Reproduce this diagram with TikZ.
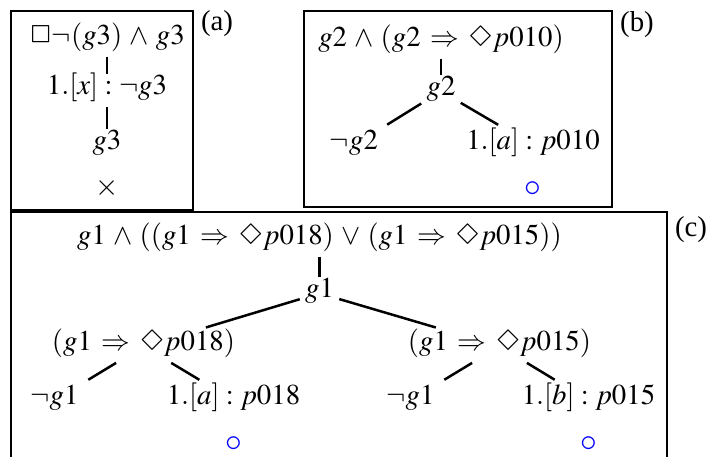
\documentclass[tikz,border=0pt]{standalone}
\usepackage{mathptmx}
\usepackage{latexsym}
\usepackage{fontspec}
\setmainfont{Liberation Serif}
\usetikzlibrary{positioning}
\definecolor{cOpen}{HTML}{0000FF}
\definecolor{cInk}{HTML}{000000}
\newcommand{\imp}{\mathrel{\mkern2mu\Rightarrow\mkern2mu}}
\newcommand{\andop}{\mathbin{\mkern2mu\wedge\mkern2mu}}
\newcommand{\orop}{\mathbin{\mkern2mu\vee\mkern2mu}}
\tikzset{
  fml/.style       = {inner xsep=1mm, inner ysep=1.5mm, text height=0.75em, text depth=0.25em},
  br/.style        = {draw=cInk, line width=0.5mm},
  brs/.style       = {br, shorten >=1.5mm},
  frm/.style       = {draw=cInk, line width=0.3mm},
  tag/.style       = {inner sep=0pt},
  openmark/.style  = {inner sep=0pt, text=cOpen, font=\fontsize{19}{22}\selectfont},
  closemark/.style = {inner sep=0pt, text=cInk, font=\fontsize{17}{20}\selectfont},
}
\begin{document}
\begin{tikzpicture}[x=1mm, y=1mm, on grid, font=\fontsize{16.4}{19}\selectfont]
  \useasboundingbox (0,0) rectangle (141.8,-91.4);

  \draw[frm] (2.2,-2.2) rectangle (38.6,-42.0);
  \draw[frm] (60.8,-2.2) rectangle (122.4,-41.4);
  \draw[frm] (2.2,-91.4) |- (133.4,-42.4) -- (133.4,-91.4);

  \node[tag] (ta) at (43.4,-4.8) {(a)};
  \node[tag] (tb) at (127.4,-5.0) {(b)};
  \node[tag] (tc) at (138.2,-46.0) {(c)};

  % (a)
  \node[fml] (a0) at (21.4,-8.05) {$\Box\neg(g3)\andop g3$};
  \node[fml, below=10mm of a0] (a1) {$1.[x]:\neg g3$};
  \node[fml, below=11mm of a1] (a2) {$g3$};
  \node[closemark, below=8.55mm of a2] (a3) {$\times$};

  \draw[br] (a0) -- (a1);
  \draw[br] (a1) -- (a2);

  % (b)
  \node[fml] (b0) at (88.2,-8.45) {$g2\andop(g2\imp\Diamond p010)$};
  \node[fml, below=9.8mm of b0] (b1) {$g2$};
  \node[fml, below left=10.8mm and 17.4mm of b1] (b2) {$\neg g2$};
  \node[fml, below right=10.8mm and 18.4mm of b1] (b3) {$1.[a]:p010$};
  \node[openmark, below=8.75mm of b3] (b4) {$\circ$};

  \draw[br] (b0) -- (b1);
  \draw[brs] (b1) -- (b2);
  \draw[brs] (b1) -- (b3);

  % (c)
  \node[fml] (c0) at (63.9,-48.05) {$g1\andop((g1\imp\Diamond p018)\orop(g1\imp\Diamond p015))$};
  \node[fml, below=10.6mm of c0] (c1) {$g1$};
  \node[fml, below left=10.6mm and 35.2mm of c1] (c2) {$(g1\imp\Diamond p018)$};
  \node[fml, below right=10.6mm and 36mm of c1] (c3) {$(g1\imp\Diamond p015)$};
  \node[fml, below left=10.8mm and 17.8mm of c2] (c4) {$\neg g1$};
  \node[fml, below right=10.8mm and 18mm of c2] (c5) {$1.[a]:p018$};
  \node[fml, below left=10.8mm and 17.8mm of c3] (c6) {$\neg g1$};
  \node[fml, below right=10.8mm and 17.8mm of c3] (c7) {$1.[b]:p015$};
  \node[openmark, below=8.75mm of c5] (c8) {$\circ$};
  \node[openmark, below=8.75mm of c7] (c9) {$\circ$};

  \draw[br] (c0) -- (c1);
  \draw[brs] (c1) -- (c2);
  \draw[brs] (c1) -- (c3);
  \draw[brs] (c2) -- (c4);
  \draw[brs] (c2) -- (c5);
  \draw[brs] (c3) -- (c6);
  \draw[brs] (c3) -- (c7);
\end{tikzpicture}
\end{document}
